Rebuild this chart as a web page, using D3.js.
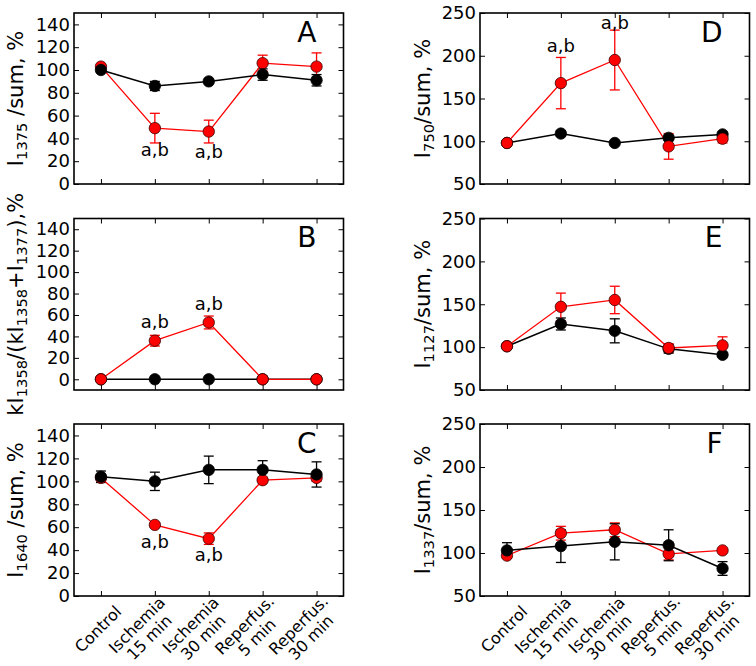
<!DOCTYPE html>
<html><head><meta charset="utf-8">
<script src="https://cdn.jsdelivr.net/npm/d3@7"></script>
<style>body{margin:0;background:#fff}</style>
</head><body><svg id="c" width="756" height="666"></svg>
<script>
// ---------- data ----------
const categories = ["Control", "Ischemia\n15 min", "Ischemia\n30 min", "Reperfus.\n5 min", "Reperfus.\n30 min"];
const ticksLeft = [0, 20, 40, 60, 80, 100, 120, 140];
const ticksRight = [50, 100, 150, 200, 250];

const blackA = [100, 86, 90, 96, 91];
const blackAErr = [2, 4, 1, 5, 5];
const redA = [103, 49, 46, 106, 103];
const redAErr = [2, 13, 10, 7, 12];

const blackB = [0, 0, 0, 0, 0];
const blackBErr = [0, 0, 0, 0, 0];
const redB = [0, 36, 53, 0, 0];
const redBErr = [0, 5, 6, 0, 0];

const blackC = [104, 100, 110, 110, 106];
const blackCErr = [5, 8, 12, 8, 11];
const redC = [103, 62, 50, 101, 103];
const redCErr = [2, 2, 5, 2, 3];

const blackD = [98, 109, 98, 104, 108];
const blackDErr = [2, 3, 2, 3, 3];
const redD = [98, 168, 195, 94, 103];
const redDErr = [2, 30, 35, 15, 5];

const blackE = [101, 127, 119, 98, 91];
const blackEErr = [2, 7, 14, 5, 2];
const redE = [101, 147, 155, 99, 102];
const redEErr = [2, 16, 16, 5, 10];

const blackF = [103, 108, 113, 109, 82];
const blackFErr = [9, 19, 21, 18, 8];
const redF = [97, 123, 127, 99, 103];
const redFErr = [3, 8, 8, 7, 2];

// "a,b" significance marks: [category index, value where the text baseline sits]
const marksA = [[1, 24.5], [2, 23]];
const marksB = [[1, 47.5], [2, 64.5]];
const marksC = [[1, 41.5], [2, 30.5]];
const marksD = [[1, 204], [2, 231.5]];

// y-axis titles: [text, isSubscript]
const labelA = [["I", 0], ["1375", 1], [" /sum, %", 0]];
const labelB = [["kI", 0], ["1358", 1], ["/(kI", 0], ["1358", 1], ["+I", 0], ["1377", 1], ["),%", 0]];
const labelC = [["I", 0], ["1640", 1], [" /sum, %", 0]];
const labelD = [["I", 0], ["750", 1], ["/sum, %", 0]];
const labelE = [["I", 0], ["1127", 1], ["/sum, %", 0]];
const labelF = [["I", 0], ["1337", 1], ["/sum, %", 0]];

// ---------- layout ----------
const FONT = "DejaVu Sans";
const cols = [[74, 343.5], [480, 749.5]];
const rows = [[13, 184], [218.5, 390], [424, 596]];
const titleX = [23, 430];

const panels = [
  {id: "A", col: 0, row: 0, domain: [0, 150], ticks: ticksLeft, black: blackA, blackErr: blackAErr, red: redA, redErr: redAErr, top: "black", label: labelA, marks: marksA},
  {id: "B", col: 0, row: 1, domain: [-10, 150], ticks: ticksLeft, black: blackB, blackErr: blackBErr, red: redB, redErr: redBErr, top: "red", label: labelB, marks: marksB},
  {id: "C", col: 0, row: 2, domain: [0, 150], ticks: ticksLeft, black: blackC, blackErr: blackCErr, red: redC, redErr: redCErr, top: "black", label: labelC, marks: marksC},
  {id: "D", col: 1, row: 0, domain: [50, 250], ticks: ticksRight, black: blackD, blackErr: blackDErr, red: redD, redErr: redDErr, top: "red", label: labelD, marks: marksD},
  {id: "E", col: 1, row: 1, domain: [50, 250], ticks: ticksRight, black: blackE, blackErr: blackEErr, red: redE, redErr: redEErr, top: "red", label: labelE, marks: []},
  {id: "F", col: 1, row: 2, domain: [50, 250], ticks: ticksRight, black: blackF, blackErr: blackFErr, red: redF, redErr: redFErr, top: "black", label: labelF, marks: []}
];

const svg = d3.select("#c");
svg.append("rect").attr("width", 756).attr("height", 666).attr("fill", "#fff");

const styles = {
  black: {line: "#000", fill: "#000", edge: "#000", lw: 1.5},
  red: {line: "#ff0000", fill: "#ff0000", edge: "#3a0000", lw: 1.3}
};

function styleAxis(a) {
  a.select(".domain").remove();
  a.selectAll(".tick line").attr("stroke", "#000").attr("stroke-width", 1);
  a.selectAll("text").attr("font-family", FONT).attr("font-size", 18).attr("fill", "#000");
}

function drawPanel(p) {
  const [x0, x1] = cols[p.col], [y0, y1] = rows[p.row];
  const x = d3.scalePoint().domain(categories).range([x0, x1]).padding(0.5);
  const y = d3.scaleLinear().domain(p.domain).range([y1, y0]);
  const g = svg.append("g");

  // axes with inward ticks on all four sides
  g.append("g").attr("transform", `translate(${x0},0)`)
    .call(d3.axisLeft(y).tickValues(p.ticks).tickSize(-5).tickPadding(4)).call(styleAxis);
  g.append("g").attr("transform", `translate(${x1},0)`)
    .call(d3.axisRight(y).tickValues(p.ticks).tickSize(-5).tickFormat("")).call(styleAxis);
  g.append("g").attr("transform", `translate(0,${y0})`)
    .call(d3.axisTop(x).tickSize(-5).tickFormat("")).call(styleAxis);
  g.append("g").attr("transform", `translate(0,${y1})`)
    .call(d3.axisBottom(x).tickSize(-5).tickFormat("")).call(styleAxis);

  // data
  const series = {
    black: p.black.map((v, i) => ({c: categories[i], v, e: p.blackErr[i]})),
    red: p.red.map((v, i) => ({c: categories[i], v, e: p.redErr[i]}))
  };
  const order = p.top === "black" ? ["red", "black"] : ["black", "red"];
  const plot = g.append("g");

  order.forEach(k => {
    const s = styles[k];
    const eb = plot.append("g");
    series[k].filter(d => d.e > 0).forEach(d => {
      const cx = x(d.c);
      eb.append("line").attr("x1", cx).attr("x2", cx).attr("y1", y(d.v - d.e)).attr("y2", y(d.v + d.e))
        .attr("stroke", s.line).attr("stroke-width", 1.3);
      [d.v - d.e, d.v + d.e].forEach(t => {
        eb.append("line").attr("x1", cx - 5).attr("x2", cx + 5).attr("y1", y(t)).attr("y2", y(t))
          .attr("stroke", s.line).attr("stroke-width", 1.3);
      });
    });
  });
  order.forEach(k => {
    const s = styles[k];
    plot.append("path").datum(series[k])
      .attr("d", d3.line().x(d => x(d.c)).y(d => y(d.v)))
      .attr("fill", "none").attr("stroke", s.line).attr("stroke-width", s.lw);
  });
  order.forEach(k => {
    const s = styles[k];
    plot.append("g").selectAll("circle").data(series[k]).join("circle")
      .attr("cx", d => x(d.c)).attr("cy", d => y(d.v)).attr("r", 5.7)
      .attr("fill", s.fill).attr("stroke", s.edge).attr("stroke-width", 0.8);
  });

  // frame
  g.append("rect").attr("x", x0).attr("y", y0).attr("width", x1 - x0).attr("height", y1 - y0)
    .attr("fill", "none").attr("stroke", "#000").attr("stroke-width", 1.6);

  // panel letter
  g.append("text").attr("x", x1 - 27).attr("y", y0 + 28.5).attr("text-anchor", "end")
    .attr("font-family", FONT).attr("font-size", 28).text(p.id);

  // significance marks
  p.marks.forEach(([i, v]) => {
    g.append("text").attr("x", x(categories[i])).attr("y", y(v)).attr("text-anchor", "middle")
      .attr("font-family", FONT).attr("font-size", 18).text("a,b");
  });

  // y title
  const cy = (y0 + y1) / 2;
  const tx = titleX[p.col];
  const t = g.append("text").attr("transform", `translate(${tx},${cy}) rotate(-90)`)
    .attr("text-anchor", "middle").attr("font-family", FONT).attr("font-size", 21);
  let sub = false;
  p.label.forEach(([str, isSub]) => {
    const ts = t.append("tspan").text(str);
    if (isSub && !sub) ts.attr("dy", 3.5).attr("font-size", 14.7);
    else if (isSub) ts.attr("font-size", 14.7);
    else if (!isSub && sub) ts.attr("dy", -3.5);
    sub = !!isSub;
  });

  // x tick labels on bottom row
  if (p.row === 2) {
    categories.forEach(c => {
      const lines = c.split("\n");
      const n = lines.length;
      const dx = n === 1 ? -3 : -12;
      const dy = n === 1 ? 33 : 35;
      const lt = g.append("g").attr("transform", `translate(${x(c) + dx},${y1 + dy}) rotate(-45)`);
      const lh = 17.5;
      lines.forEach((ln, j) => {
        lt.append("text").attr("x", 0).attr("y", (j - (n - 1) / 2) * lh + 5.8)
          .attr("text-anchor", "middle").attr("font-family", FONT).attr("font-size", 16).text(ln);
      });
    });
  }
}

panels.forEach(drawPanel);
</script>
</body></html>
